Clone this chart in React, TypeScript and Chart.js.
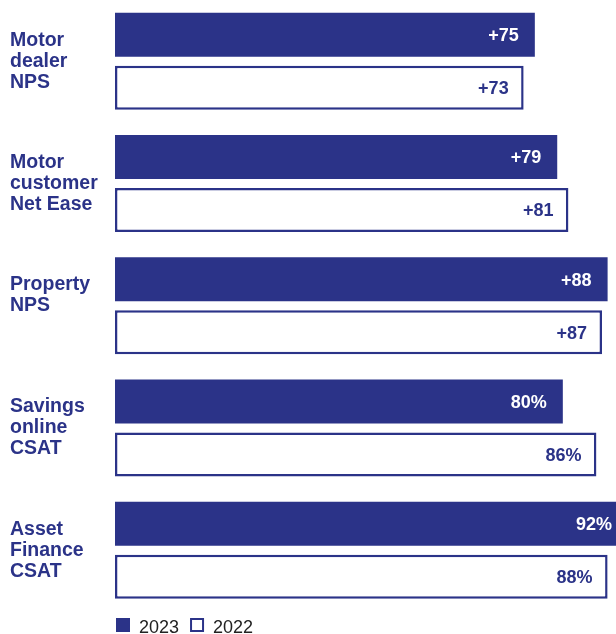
import React, { useEffect, useRef } from "react";
import { Chart, registerables } from "chart.js";

Chart.register(...registerables);

const categories: string[][] = [
  ["Motor", "dealer", "NPS"],
  ["Motor", "customer", "Net Ease"],
  ["Property", "NPS", ""],
  ["Savings", "online", "CSAT"],
  ["Asset", "Finance", "CSAT"],
];
const values2023 = [75, 79, 88, 80, 92];
const values2022 = [73, 81, 87, 86, 88];
const labels2023 = ["+75", "+79", "+88", "80%", "92%"];
const labels2022 = ["+73", "+81", "+87", "86%", "88%"];
const seriesNames = ["2023", "2022"];

const NAVY = "#2b3388";
const FONT = '"Liberation Sans", Arial, Helvetica, sans-serif';

const valueLabelPlugin = {
  id: "valueLabels",
  afterDatasetsDraw(chart: any) {
    const ctx = chart.ctx;
    const area = chart.chartArea;
    const sets = [labels2023, labels2022];
    ctx.save();
    ctx.font = `bold 18px ${FONT}`;
    ctx.textAlign = "right";
    ctx.textBaseline = "alphabetic";
    chart.data.datasets.forEach((_: any, di: number) => {
      const meta = chart.getDatasetMeta(di);
      meta.data.forEach((el: any, i: number) => {
        const pad = di === 0 ? 16 : 15;
        const x = Math.min(el.x - pad, area.right - 4);
        const y = el.y + 6.4;
        ctx.fillStyle = di === 0 ? "#ffffff" : NAVY;
        ctx.fillText(sets[di][i], x, y);
      });
    });
    ctx.restore();
  },
};

const legendPlugin = {
  id: "customLegend",
  afterDraw(chart: any) {
    const ctx = chart.ctx;
    const left = chart.chartArea.left + 1;
    const top = 618;
    const size = 14;
    ctx.save();
    ctx.font = `18px ${FONT}`;
    ctx.textAlign = "left";
    ctx.textBaseline = "alphabetic";
    let x = left;
    seriesNames.forEach((name, i) => {
      if (i === 0) {
        ctx.fillStyle = NAVY;
        ctx.fillRect(x, top, size, size);
      } else {
        ctx.strokeStyle = NAVY;
        ctx.lineWidth = 2;
        ctx.strokeRect(x + 1, top + 1, size - 2, size - 2);
      }
      const tx = x + size + 9;
      ctx.fillStyle = "#222222";
      ctx.fillText(name, tx, 632.5);
      x = tx + ctx.measureText(name).width + 11;
    });
    ctx.restore();
  },
};

export default function App() {
  const ref = useRef<HTMLCanvasElement | null>(null);

  useEffect(() => {
    if (!ref.current) return;
    const chart = new Chart(ref.current, {
      type: "bar",
      data: {
        labels: categories,
        datasets: [
          {
            label: seriesNames[0],
            data: values2023,
            backgroundColor: NAVY,
            borderWidth: 0,
            categoryPercentage: 0.867,
            barPercentage: 0.83,
          },
          {
            label: seriesNames[1],
            data: values2022,
            backgroundColor: "#ffffff",
            borderColor: NAVY,
            borderWidth: 2.5,
            borderSkipped: false,
            categoryPercentage: 0.867,
            barPercentage: 0.83,
          },
        ],
      },
      options: {
        indexAxis: "y",
        responsive: false,
        animation: false,
        layout: { padding: { left: 10, right: 0, top: 0, bottom: 22.5 } },
        plugins: {
          legend: { display: false },
          tooltip: { enabled: false },
        },
        scales: {
          x: {
            display: false,
            min: 0,
            max: 89.5,
            grid: { display: false },
          },
          y: {
            grid: { display: false },
            border: { display: false },
            ticks: {
              crossAlign: "far",
              padding: 0,
              color: NAVY,
              font: { family: FONT, size: 19.5, weight: "bold", lineHeight: 21 / 19.5 },
            },
            afterFit(scale: any) {
              scale.width = 105;
              scale.paddingTop = 0;
              scale.paddingBottom = 0;
            },
          },
        },
      },
      plugins: [valueLabelPlugin, legendPlugin],
    });
    return () => chart.destroy();
  }, []);

  return (
    <div style={{ position: "absolute", left: 0, top: 0, width: 616, height: 634, background: "#fff" }}>
      <canvas ref={ref} width={616} height={634} style={{ display: "block" }} />
    </div>
  );
}
